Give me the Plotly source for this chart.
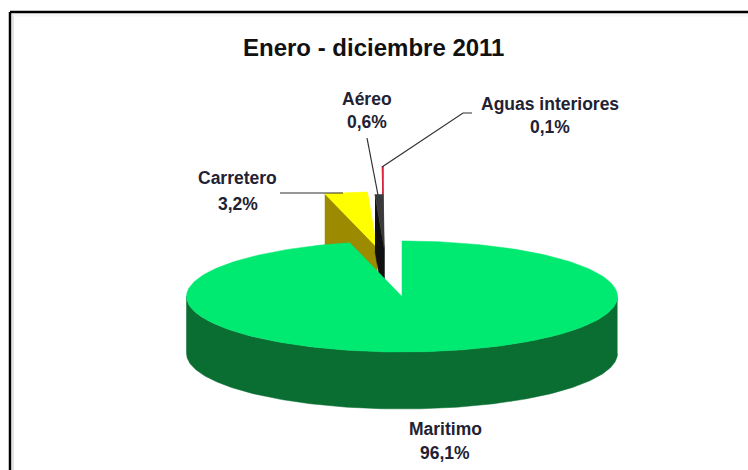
import numpy as np
import plotly.graph_objects as go

# Transport mode shares for January - December 2011
modes = ["Maritimo", "Carretero", "Aéreo", "Aguas interiores"]
shares = [96.1, 3.2, 0.6, 0.1]
share_labels = ["96,1%", "3,2%", "0,6%", "0,1%"]

# Pie projection on the 748x470 canvas
RX, RY, DEPTH = 215.5, 55.5, 57.0
TOP_COLORS = ["#00E971", "#FFFF00", "#3A3A3C", "#E8102A"]
SIDE_COLORS = ["#0A6E32", "#9C8A00", "#101010", "#8A0A1A"]
# Apex of each slice's top face: the three small slices are pulled away from the pie
APEX_X = [402.0, 377.0, 384.5, 383.5]
APEX_Y = [296.5, 247.5, 250.0, 222.0]


def ellipse(apex_x, apex_y, start, end, n=240):
    """Points along a slice's rim; angles are degrees clockwise from 12 o'clock."""
    t = np.radians(np.linspace(start, end, n))
    return apex_x + RX * np.sin(t), apex_y - RY * np.cos(t)


# Slice angles follow the cumulative shares
total = sum(shares)
edges = np.concatenate([[0.0], np.cumsum(shares)]) / total * 360.0

fig = go.Figure()


def poly(x, y, color):
    fig.add_trace(go.Scatter(x=list(x), y=list(y), mode="lines", fill="toself",
                             fillcolor=color, line=dict(color=color, width=0.5),
                             hoverinfo="skip", showlegend=False))


def draw_slice(i):
    start, end = edges[i], edges[i + 1]
    ax, ay = APEX_X[i], APEX_Y[i]
    ex, ey = ellipse(ax, ay, start, end)
    if i == 0:
        # outer wall: only the front half of the rim is visible
        fx, fy = ellipse(ax, ay, 90, 270)
        poly(np.r_[fx, fx[::-1]], np.r_[fy, fy[::-1] + DEPTH], SIDE_COLORS[i])
    else:
        # radial wall running from the leading rim point down to the apex
        poly([ex[0], ax, ax, ex[0]], [ey[0], ay, ay + DEPTH, ey[0] + DEPTH], SIDE_COLORS[i])
    poly(np.r_[ax, ex, ax], np.r_[ay, ey, ay], TOP_COLORS[i])


# Back to front: the farthest slices first, the main slice on top
for idx in [3, 1, 2, 0]:
    draw_slice(idx)

# Leader lines
LEADER = "#303030"
for xs, ys in [([280, 343], [193, 193]),
               ([367, 378], [138, 195]),
               ([382, 463, 472], [167, 113, 113])]:
    fig.add_trace(go.Scatter(x=xs, y=ys, mode="lines", line=dict(color=LEADER, width=1.2),
                             hoverinfo="skip", showlegend=False))

# Outer frame: left and top rules reach the window edges, with a soft inner shadow
fig.add_shape(type="line", x0=13, x1=13, y0=14, y1=470, line=dict(color="#E4E4E4", width=2))
fig.add_shape(type="line", x0=13, x1=748, y0=15, y1=15, line=dict(color="#F6F6F6", width=3))
fig.add_shape(type="line", x0=10, x1=10, y0=12, y1=470, line=dict(color="black", width=2.5))
fig.add_shape(type="line", x0=10, x1=748, y0=12, y1=12, line=dict(color="black", width=2.5))

FONT = "Liberation Sans"
fig.add_annotation(x=373, y=47, text="<b>Enero - diciembre 2011</b>", showarrow=False,
                   font=dict(family=FONT, size=24, color="#111111"))

LABEL_POS = {"Maritimo": (445, 429, 453), "Carretero": (237.5, 178, 204),
             "Aéreo": (367, 99, 122), "Aguas interiores": (550, 104, 127)}
for name, share in zip(modes, share_labels):
    x, y1, y2 = LABEL_POS[name]
    fig.add_annotation(x=x, y=y1, text=f"<b>{name}</b>", showarrow=False,
                       font=dict(family=FONT, size=17.5, color="#222233"))
    fig.add_annotation(x=x, y=y2, text=f"<b>{share}</b>", showarrow=False,
                       font=dict(family=FONT, size=17.5, color="#222233"))

fig.update_layout(width=748, height=470, margin=dict(l=0, r=0, t=0, b=0),
                  paper_bgcolor="white", plot_bgcolor="white",
                  xaxis=dict(range=[0, 748], visible=False, fixedrange=True),
                  yaxis=dict(range=[470, 0], visible=False, fixedrange=True))
fig.write_html("out.html", config={"displayModeBar": False})
